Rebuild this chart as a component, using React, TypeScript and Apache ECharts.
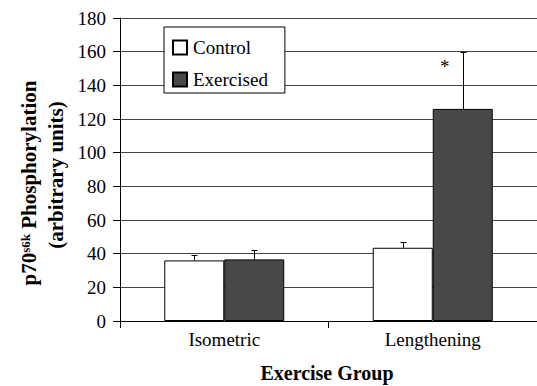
import React, { useEffect, useRef } from "react";
import * as echarts from "echarts";

const categories = ["Isometric", "Lengthening"];
const controlValues = [36, 43.5];
const controlErrTop = [39, 46.7];
const exercisedValues = [36.6, 126];
const exercisedErrTop = [42, 160];
const yTicks = { min: 0, max: 180, interval: 20 };
const asterisks = [[1, 151]];

const FONT = "Liberation Serif";

export default function App() {
  const ref = useRef<HTMLDivElement>(null);
  useEffect(() => {
    document.body.style.margin = "0";
    const chart = echarts.init(ref.current!, undefined, { renderer: "svg" });
    const BW = 60;
    const errData: number[][] = [];
    categories.forEach((_, i) => {
      errData.push([i, controlValues[i], controlErrTop[i], -1]);
      errData.push([i, exercisedValues[i], exercisedErrTop[i], 1]);
    });
    chart.setOption({
      animation: false,
      backgroundColor: "#fff",
      textStyle: { fontFamily: FONT },
      grid: { left: 120, right: -5, top: 18, bottom: 65 },
      legend: {
        data: ["Control", "Exercised"],
        orient: "vertical",
        left: 164,
        top: 27,
        padding: [11, 17, 4, 8],
        itemGap: 13,
        itemWidth: 14,
        itemHeight: 14,
        icon: "rect",
        backgroundColor: "#fff",
        borderColor: "#000",
        borderWidth: 1,
        borderRadius: 0,
        textStyle: { fontFamily: FONT, fontSize: 19, color: "#000", padding: [0, 0, 0, 1] },
        selectedMode: false,
      },
      xAxis: {
        type: "category",
        data: categories,
        axisLine: { lineStyle: { color: "#000", width: 1 } },
        axisTick: { show: true, length: 7, lineStyle: { color: "#000" } },
        axisLabel: { fontFamily: FONT, fontSize: 19, color: "#000", margin: 9 },
      },
      yAxis: {
        type: "value",
        min: yTicks.min,
        max: yTicks.max,
        interval: yTicks.interval,
        axisLine: { show: true, lineStyle: { color: "#000", width: 1 } },
        axisTick: { show: true, length: 7, lineStyle: { color: "#000" } },
        splitLine: { show: true, lineStyle: { color: "#444", width: 1 } },
        axisLabel: { fontFamily: FONT, fontSize: 19, color: "#000", margin: 14 },
      },
      series: [
        {
          name: "Control",
          type: "bar",
          data: controlValues,
          barWidth: BW,
          barGap: "0%",
          itemStyle: { color: "#fff", borderColor: "#000", borderWidth: 1 },
        },
        {
          name: "Exercised",
          type: "bar",
          data: exercisedValues,
          barWidth: BW,
          barGap: "0%",
          itemStyle: { color: "#484848", borderColor: "#000", borderWidth: 1 },
        },
        {
          type: "custom",
          z: 5,
          data: errData,
          renderItem: (params: any, api: any) => {
            const base = api.coord([api.value(0), api.value(1)]);
            const top = api.coord([api.value(0), api.value(2)]);
            const x = Math.round(base[0] + api.value(3) * (BW / 2)) + 0.5;
            const ty = Math.round(top[1]) + 0.5;
            return {
              type: "group",
              children: [
                { type: "line", shape: { x1: x, y1: base[1], x2: x, y2: ty }, style: { stroke: "#000", lineWidth: 1 } },
                { type: "line", shape: { x1: x - 3, y1: ty, x2: x + 3, y2: ty }, style: { stroke: "#000", lineWidth: 1 } },
              ],
            };
          },
        },
        {
          type: "custom",
          z: 6,
          data: asterisks,
          renderItem: (params: any, api: any) => {
            const p = api.coord([api.value(0), api.value(1)]);
            return {
              type: "text",
              x: p[0] + BW / 2 - 18,
              y: p[1],
              style: { text: "*", fontFamily: FONT, fontSize: 19, fill: "#000", align: "center", verticalAlign: "middle" },
            };
          },
        },
      ],
      graphic: [
        {
          type: "text",
          x: 29,
          y: 183,
          rotation: Math.PI / 2,
          style: {
            text: "{a|p70}{b|s6k}{a| Phosphorylation}",
            align: "center",
            verticalAlign: "middle",
            fill: "#000",
            rich: {
              a: { fontFamily: FONT, fontSize: 21, fontWeight: "bold", fill: "#000" },
              b: { fontFamily: FONT, fontSize: 13, fontWeight: "bold", fill: "#000", verticalAlign: "top" },
            },
          },
        },
        {
          type: "text",
          x: 56,
          y: 175,
          rotation: Math.PI / 2,
          style: {
            text: "(arbitrary units)",
            fontFamily: FONT,
            fontSize: 21,
            fontWeight: "bold",
            fill: "#000",
            align: "center",
            verticalAlign: "middle",
          },
        },
        {
          type: "text",
          x: 327,
          y: 373,
          style: {
            text: "Exercise Group",
            fontFamily: FONT,
            fontSize: 20,
            fontWeight: "bold",
            fill: "#000",
            align: "center",
            verticalAlign: "middle",
          },
        },
      ],
    });
    return () => chart.dispose();
  }, []);
  return <div ref={ref} style={{ width: 537, height: 386 }} />;
}
